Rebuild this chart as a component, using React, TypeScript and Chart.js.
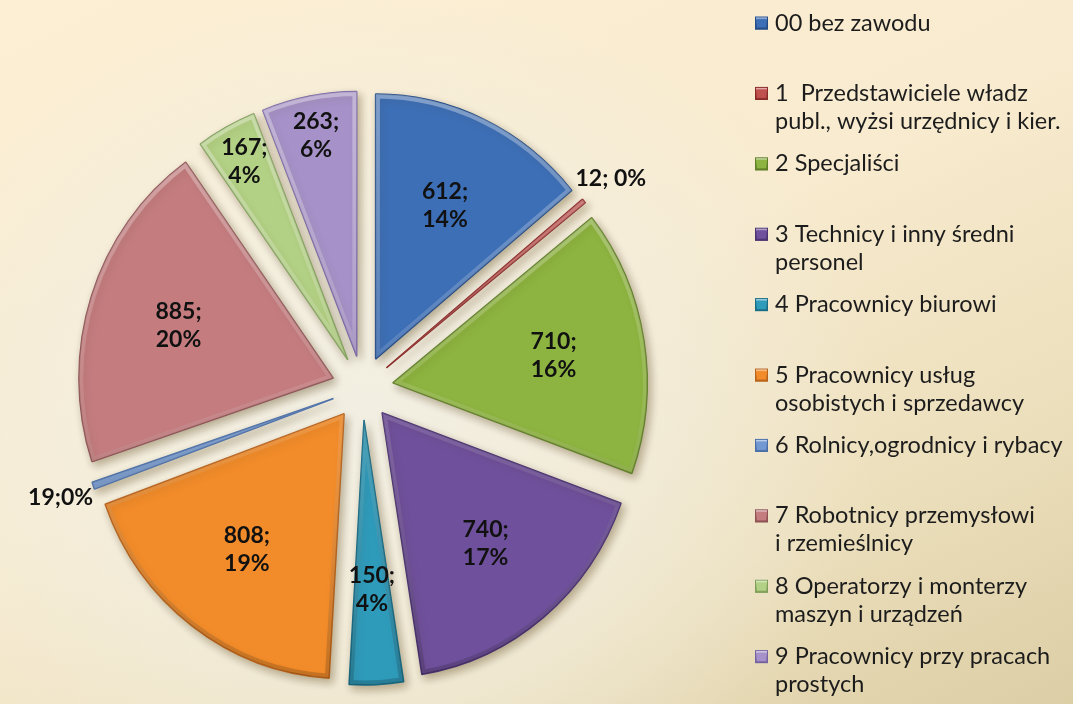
import React, { useEffect, useRef } from 'react';
import { Chart, registerables } from 'chart.js';

Chart.register(...registerables);

const categories = [
  '00 bez zawodu',
  '1  Przedstawiciele władz\npubl., wyżsi urzędnicy i kier.',
  '2 Specjaliści',
  '3 Technicy i inny średni\npersonel',
  '4 Pracownicy biurowi',
  '5 Pracownicy usług\nosobistych i sprzedawcy',
  '6 Rolnicy,ogrodnicy i rybacy',
  '7 Robotnicy przemysłowi\ni rzemieślnicy',
  '8 Operatorzy i monterzy\nmaszyn i urządzeń',
  '9 Pracownicy przy pracach\nprostych',
];

const counts = [612, 12, 710, 740, 150, 808, 19, 885, 167, 263];

const valueLabels = [
  '612;\n14%',
  '12; 0%',
  '710;\n16%',
  '740;\n17%',
  '150;\n4%',
  '808;\n19%',
  '19;0%',
  '885;\n20%',
  '167;\n4%',
  '263;\n6%',
];

const fills = [
  '#3d6fb6',
  '#c0504d',
  '#8db440',
  '#6f509c',
  '#2f9bbb',
  '#f28c2a',
  '#7399d2',
  '#c47c7f',
  '#b2d184',
  '#a692c8',
];

const edges = [
  '#234b85',
  '#8a2a28',
  '#5f7d25',
  '#4a3270',
  '#1a6c85',
  '#b8621a',
  '#4a6ea6',
  '#8e5254',
  '#7f9e58',
  '#7562a0',
];

const EXPLODE = 32;
const RADIUS = 265;
const SX = 0.96;
const FONT = 'Lato, "Open Sans", sans-serif';

const explodePlugin = {
  id: 'explode',
  beforeDatasetDraw(chart: any, args: any) {
    const ctx = chart.ctx;
    args.meta.data.forEach((arc: any) => {
      const mid = (arc.startAngle + arc.endAngle) / 2;
      ctx.save();
      ctx.translate(arc.x, 0);
      ctx.scale(SX, 1);
      ctx.translate(-arc.x, 0);
      ctx.translate(Math.cos(mid) * EXPLODE, Math.sin(mid) * EXPLODE);
      ctx.save();
      ctx.shadowColor = 'rgba(70,50,10,0.35)';
      ctx.shadowBlur = 9;
      ctx.shadowOffsetX = 3;
      ctx.shadowOffsetY = 4;
      arc.draw(ctx, chart.chartArea);
      ctx.restore();
      const r = arc.outerRadius;
      ctx.beginPath();
      ctx.moveTo(arc.x, arc.y);
      ctx.arc(arc.x, arc.y, r, arc.startAngle, arc.endAngle);
      ctx.closePath();
      ctx.save();
      ctx.clip();
      const g = ctx.createLinearGradient(0, arc.y - r, 0, arc.y + r);
      g.addColorStop(0, 'rgba(255,255,255,0.35)');
      g.addColorStop(0.5, 'rgba(255,255,255,0.12)');
      g.addColorStop(1, 'rgba(0,0,0,0.18)');
      ctx.strokeStyle = g;
      ctx.lineWidth = 9;
      ctx.lineJoin = 'round';
      ctx.stroke();
      ctx.restore();
      ctx.restore();
    });
    return false;
  },
};

const labelPlugin = {
  id: 'sliceLabels',
  afterDatasetsDraw(chart: any) {
    const ctx = chart.ctx;
    const meta = chart.getDatasetMeta(0);
    const data = chart.data.datasets[0].data as number[];
    const total = data.reduce((a, b) => a + b, 0);
    ctx.save();
    ctx.font = `bold 23px ${FONT}`;
    ctx.fillStyle = '#111';
    ctx.textAlign = 'center';
    ctx.textBaseline = 'middle';
    meta.data.forEach((arc: any, i: number) => {
      const mid = (arc.startAngle + arc.endAngle) / 2;
      const width = arc.endAngle - arc.startAngle;
      const r = arc.outerRadius;
      let d: number;
      if (data[i] / total < 0.01) {
        d = r + 68;
      } else {
        const f = width < 0.45 && Math.sin(mid) < 0 ? 0.85 : 0.64;
        d = EXPLODE + f * r;
      }
      const px = arc.x + Math.cos(mid) * d * SX;
      const py = arc.y + Math.sin(mid) * d;
      const lines = valueLabels[i].split('\n');
      const lh = 28;
      lines.forEach((ln, k) => {
        ctx.fillText(ln, px, py + (k - (lines.length - 1) / 2) * lh);
      });
    });
    ctx.restore();
  },
};

const legendPlugin = {
  id: 'sideLegend',
  afterDraw(chart: any) {
    const ctx = chart.ctx;
    const labels = chart.data.labels as string[];
    const ds = chart.data.datasets[0];
    ctx.save();
    ctx.font = `23.5px ${FONT}`;
    ctx.textBaseline = 'middle';
    ctx.textAlign = 'left';
    labels.forEach((lab, i) => {
      const y = 23 + i * 70.4;
      const bx = 755;
      const sz = 13;
      const g = ctx.createLinearGradient(0, y - sz / 2, 0, y + sz / 2);
      g.addColorStop(0, '#ffffff');
      g.addColorStop(0.25, ds.backgroundColor[i]);
      g.addColorStop(1, ds.borderColor[i]);
      ctx.fillStyle = g;
      ctx.fillRect(bx, y - sz / 2, sz, sz);
      ctx.fillStyle = ds.backgroundColor[i];
      ctx.fillRect(bx + 2, y - sz / 2 + 3, sz - 4, sz - 5);
      ctx.strokeStyle = ds.borderColor[i];
      ctx.lineWidth = 1;
      ctx.strokeRect(bx + 0.5, y - sz / 2 + 0.5, sz - 1, sz - 1);
      ctx.fillStyle = '#1c1c1c';
      lab.split('\n').forEach((ln, k) => {
        ctx.fillText(ln, 775, y + k * 28);
      });
    });
    ctx.restore();
  },
};

export default function App() {
  const ref = useRef<HTMLCanvasElement | null>(null);
  useEffect(() => {
    if (!ref.current) return;
    const chart = new Chart(ref.current, {
      type: 'pie',
      data: {
        labels: categories,
        datasets: [
          {
            data: counts,
            backgroundColor: fills,
            borderColor: edges,
            borderWidth: 1.5,
          },
        ],
      },
      options: {
        responsive: false,
        animation: false,
        radius: RADIUS,
        layout: { padding: { left: 0, right: 348, top: 72, bottom: 0 } },
        plugins: {
          legend: { display: false },
          tooltip: { enabled: false },
          title: { display: false },
        },
      } as any,
      plugins: [explodePlugin, labelPlugin, legendPlugin],
    });
    return () => chart.destroy();
  }, []);
  return (
    <div
      style={{
        position: 'absolute',
        left: 0,
        top: 0,
        width: 1073,
        height: 704,
        overflow: 'hidden',
        background:
          'radial-gradient(ellipse 520px 460px at 360px 420px, rgba(242,239,226,1) 0%, rgba(242,239,226,0.6) 55%, rgba(242,239,226,0) 100%), linear-gradient(155deg, #fdefd3 0%, #f8ebcf 45%, #ecdfbc 75%, #dccea5 100%)',
      }}
    >
      <canvas ref={ref} width={1073} height={704} style={{ display: 'block' }} />
    </div>
  );
}
